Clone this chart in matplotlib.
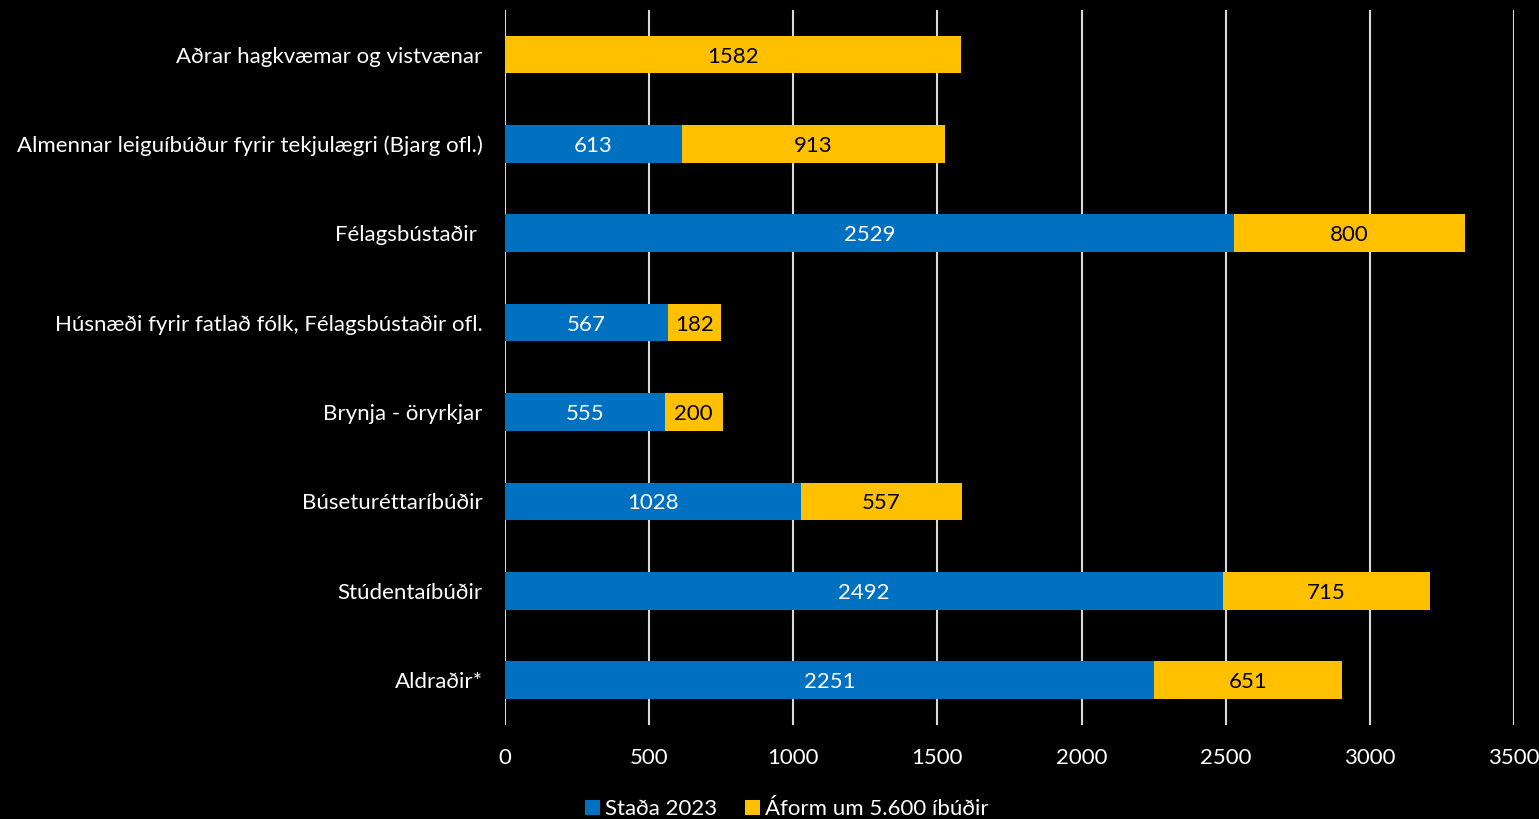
import matplotlib
matplotlib.use("Agg")
import matplotlib.pyplot as plt
import numpy as np

categories = [
    "Aldraðir*",
    "Stúdentaíbúðir",
    "Búseturéttaríbúðir",
    "Brynja - öryrkjar",
    "Húsnæði fyrir fatlað fólk, Félagsbústaðir ofl.",
    "Félagsbústaðir ",
    "Almennar leiguíbúður fyrir tekjulægri (Bjarg ofl.)",
    "Aðrar hagkvæmar og vistvænar",
]
stada_2023 = [2251, 2492, 1028, 555, 567, 2529, 613, 0]
aform = [651, 715, 557, 200, 182, 800, 913, 1582]
series_names = ["Staða 2023", "Áform um 5.600 íbúðir"]
xticks = [0, 500, 1000, 1500, 2000, 2500, 3000, 3500]

plt.rcParams['font.family'] = ['Lato', 'DejaVu Sans']
fs = 16

fig = plt.figure(figsize=(15.39, 8.19), dpi=100, facecolor='black')
ax = fig.add_axes([0.328, 0.115, 0.9838 - 0.328, 0.988 - 0.115])
ax.set_facecolor('black')

y = np.arange(len(categories))
h = 0.42
b1 = ax.barh(y, stada_2023, height=h, color='#0070C0', label=series_names[0], zorder=3)
b2 = ax.barh(y, aform, left=stada_2023, height=h, color='#FFC000', label=series_names[1], zorder=3)

for i in range(len(categories)):
    if stada_2023[i] > 0:
        ax.text(stada_2023[i] / 2, y[i], str(stada_2023[i]), ha='center', va='center_baseline',
                color='white', fontsize=fs, zorder=4)
    if aform[i] > 0:
        ax.text(stada_2023[i] + aform[i] / 2, y[i], str(aform[i]), ha='center', va='center_baseline',
                color='black', fontsize=fs, zorder=4)

ax.set_xlim(0, 3500)
ax.set_ylim(-0.5, len(categories) - 0.5)
ax.set_xticks(xticks)
ax.set_xticklabels([str(t) for t in xticks], color='white', fontsize=fs)
ax.set_yticks(y)
ax.set_yticklabels(categories, color='white', fontsize=fs)
ax.tick_params(axis='both', length=0)
ax.tick_params(axis='x', pad=17)
ax.tick_params(axis='y', pad=16)
ax.grid(axis='x', color='#D9D9D9', linewidth=1.5, zorder=0)
for s in ax.spines.values():
    s.set_visible(False)

leg = fig.legend(handles=[b1, b2], labels=series_names, loc='lower center',
                 bbox_to_anchor=(0.511, -0.025), ncol=2, frameon=False, fontsize=fs,
                 handlelength=0.7, handleheight=0.7, handletextpad=0.2, columnspacing=1.25)
for t in leg.get_texts():
    t.set_color('white')

fig.savefig('out.png', dpi=100, facecolor='black')
